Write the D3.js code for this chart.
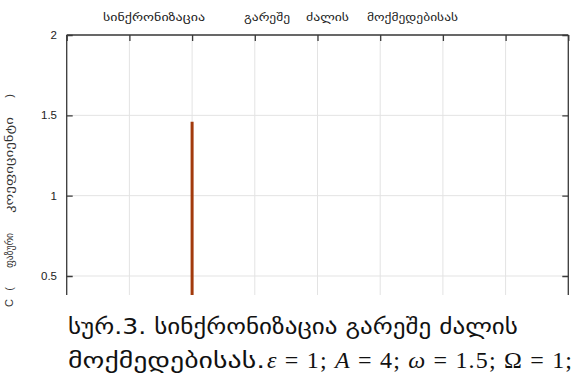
<!DOCTYPE html>
<html>
<head>
<meta charset="utf-8">
<script src="https://cdn.jsdelivr.net/npm/d3@7"></script>
<style>
  html, body { margin: 0; padding: 0; background: #fff; }
  svg { display: block; }
</style>
</head>
<body>
<div id="chart"></div>
<script>
// Synchronisation coefficient C versus the x parameter (no external force)
const xTicks = [0, 1, 2, 3, 4, 5, 6, 7, 8];
const yTicks = [0.5, 1, 1.5, 2];
const yTickLabels = ["0.5", "1", "1.5", "2"];
const syncX = [2, 2];
const syncC = [0, 1.46];

const titleWords = ["სინქრონიზაცია", "გარეშე", "ძალის", "მოქმედებისას"];
const yLabelParts = ["C", "(", "ფაზური", "კოეფიციენტი", ")"];
const captionLine1 = "სურ.3. სინქრონიზაცია გარეშე ძალის";
const captionLine2Text = "მოქმედებისას.";
const captionMath = [
  { sym: "ε", italic: true, rest: " = 1; " },
  { sym: "A", italic: true, rest: " = 4; " },
  { sym: "ω", italic: true, rest: " = 1.5; " },
  { sym: "Ω", italic: false, rest: " = 1;" }
];

const W = 579, H = 376;
const plot = { left: 66.7, right: 568.3, top: 35, bottom: 295 };

const svg = d3.select("#chart").append("svg")
  .attr("width", W).attr("height", H);

const x = d3.scaleLinear().domain([0, 8]).range([plot.left, plot.right]);
const y = d3.scaleLinear().domain([0.5, 2]).range([276, 35]);

svg.append("defs").append("clipPath").attr("id", "plotclip")
  .append("rect")
  .attr("x", plot.left - 2).attr("y", plot.top - 2)
  .attr("width", plot.right - plot.left + 4)
  .attr("height", plot.bottom - plot.top + 2);

const g = svg.append("g").attr("clip-path", "url(#plotclip)");

// grid
g.append("g").selectAll("line").data(xTicks).join("line")
  .attr("x1", d => x(d)).attr("x2", d => x(d))
  .attr("y1", plot.top).attr("y2", 400)
  .attr("stroke", "#e3e3e3").attr("stroke-width", 1);
g.append("g").selectAll("line").data(yTicks).join("line")
  .attr("x1", plot.left).attr("x2", plot.right)
  .attr("y1", d => y(d)).attr("y2", d => y(d))
  .attr("stroke", "#e3e3e3").attr("stroke-width", 1);

// series
const line = d3.line().x((d, i) => x(syncX[i])).y(d => y(d));
g.append("path").datum(syncC)
  .attr("d", line)
  .attr("fill", "none")
  .attr("stroke", "#a23a0c")
  .attr("stroke-width", 3);

// axes (box with inward ticks)
const axisG = svg.append("g").attr("clip-path", "url(#plotclip)");
const leftAxis = d3.axisLeft(y).tickValues(yTicks).tickSize(-6).tickFormat("");
axisG.append("g").attr("transform", `translate(${plot.left},0)`).call(leftAxis)
  .call(s => s.select(".domain").attr("d", `M0,${plot.top}V400`));
const rightAxis = d3.axisRight(y).tickValues(yTicks).tickSize(-6).tickFormat("");
axisG.append("g").attr("transform", `translate(${plot.right},0)`).call(rightAxis)
  .call(s => s.select(".domain").attr("d", `M0,${plot.top}V400`));
const topAxis = d3.axisTop(x).tickValues(xTicks).tickSize(-6).tickFormat("");
axisG.append("g").attr("transform", `translate(0,${plot.top})`).call(topAxis)
  .call(s => s.select(".domain").attr("d", `M${plot.left},0H${plot.right}`));
axisG.selectAll(".domain").attr("stroke", "#3a3a3a").attr("stroke-width", 1.3);
axisG.selectAll(".tick line").attr("stroke", "#3a3a3a").attr("stroke-width", 1.3);

// y tick labels
svg.append("g").selectAll("text").data(yTicks).join("text")
  .attr("x", 57).attr("y", d => y(d) + 4)
  .attr("text-anchor", "end")
  .attr("font-family", "Liberation Sans, Arial, sans-serif")
  .attr("font-size", 11.5)
  .attr("fill", "#222")
  .text((d, i) => yTickLabels[i]);

// title, word by word
const titleSpans = [[103, 102], [244, 46], [306, 43], [367, 91]];
svg.append("g").selectAll("text").data(titleWords).join("text")
  .attr("x", (d, i) => titleSpans[i][0])
  .attr("y", 21)
  .attr("textLength", (d, i) => titleSpans[i][1])
  .attr("lengthAdjust", "spacingAndGlyphs")
  .attr("font-family", "DejaVu Sans, sans-serif")
  .attr("font-size", 11)
  .attr("fill", "#222")
  .text(d => d);

// rotated y label, piece by piece (bottom to top)
const yLabelPos = [[303, 0], [289, 0], [268, 35], [213, 96], [96, 0]];
svg.append("g").selectAll("text").data(yLabelParts).join("text")
  .attr("transform", (d, i) => `translate(13,${yLabelPos[i][0]}) rotate(-90)`)
  .attr("text-anchor", (d, i) => yLabelPos[i][1] ? "start" : "middle")
  .attr("textLength", (d, i) => yLabelPos[i][1] || null)
  .attr("lengthAdjust", "spacingAndGlyphs")
  .attr("font-family", (d, i) => i < 2 || i === 4 ? "Liberation Sans, Arial, sans-serif" : "DejaVu Sans, sans-serif")
  .attr("font-size", 11)
  .attr("fill", "#333")
  .text(d => d);

// caption
svg.append("text")
  .attr("x", 68).attr("y", 334)
  .attr("textLength", 450).attr("lengthAdjust", "spacingAndGlyphs")
  .attr("font-family", "DejaVu Sans, sans-serif")
  .attr("font-size", 22)
  .attr("fill", "#111")
  .text(captionLine1);

svg.append("text")
  .attr("x", 68).attr("y", 368)
  .attr("textLength", 197).attr("lengthAdjust", "spacingAndGlyphs")
  .attr("font-family", "DejaVu Sans, sans-serif")
  .attr("font-size", 22)
  .attr("fill", "#111")
  .text(captionLine2Text);

const math = svg.append("text")
  .attr("x", 267).attr("y", 368)
  .attr("textLength", 305).attr("lengthAdjust", "spacing")
  .attr("font-family", "Liberation Serif, DejaVu Serif, serif")
  .attr("font-size", 24)
  .attr("fill", "#111");
captionMath.forEach(m => {
  math.append("tspan")
    .attr("font-style", m.italic ? "italic" : "normal")
    .text(m.sym);
  math.append("tspan").text(m.rest);
});
</script>
</body>
</html>
